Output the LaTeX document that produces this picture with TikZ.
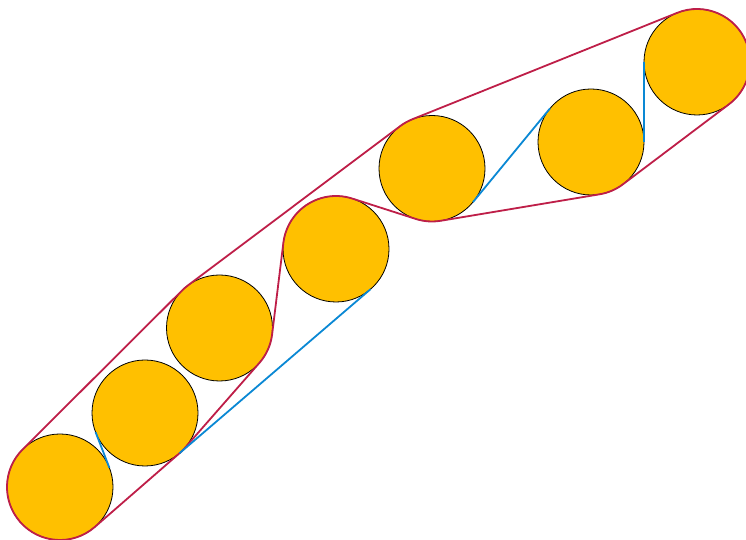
\documentclass[tikz,border=0pt]{standalone}
\usetikzlibrary{calc}
\definecolor{ballfill}{RGB}{255,192,0}
\definecolor{hullred}{RGB}{190,30,72}
\definecolor{cableblue}{RGB}{10,136,212}
\begin{document}
\begin{tikzpicture}[x=1pt,y=1pt,
  ball/.style={circle,draw=black,line width=0.8pt,fill=ballfill,minimum size=106pt,inner sep=0pt},
  hull/.style={draw=hullred,line width=1.8pt,line join=round},
  cable/.style={draw=cableblue,line width=1.8pt}]
\def\R{53}
\useasboundingbox (0,0) rectangle (746,540);
\node[ball] (b1) at (60,53) {};
\node[ball] (b2) at (145,127) {};
\node[ball] (b3) at (219.5,212) {};
\node[ball] (b4) at (336,291) {};
\node[ball] (b5) at (432,371.5) {};
\node[ball] (b6) at (591,398) {};
\node[ball] (b7) at (697,478) {};
% hull
\path[hull] let
  \p1=(b1.center),\p2=(b2.center),\p3=(b3.center),\p4=(b4.center),
  \p5=(b5.center),\p6=(b6.center),\p7=(b7.center),
  \n{13}={atan2(\y3-\y1,\x3-\x1)},
  \n{35}={atan2(\y5-\y3,\x5-\x3)},
  \n{57}={atan2(\y7-\y5,\x7-\x5)},
  \n{76}={atan2(\y6-\y7,\x6-\x7)},
  \n{65}={atan2(\y5-\y6,\x5-\x6)},
  \n{54}={atan2(\y4-\y5,\x4-\x5)},
  \n{t54}={acos(2*\R/veclen(\x4-\x5,\y4-\y5))},
  \n{43}={atan2(\y3-\y4,\x3-\x4)},
  \n{t43}={acos(2*\R/veclen(\x3-\x4,\y3-\y4))},
  \n{32}={atan2(\y2-\y3,\x2-\x3)},
  \n{21}={atan2(\y1-\y2,\x1-\x2)}
 in
  ($(b1.center)+(\n{13}+90:\R)$) -- ($(b3.center)+(\n{13}+90:\R)$)
  arc[start angle=\n{13}+90, end angle=\n{35}+90, radius=\R]
  -- ($(b5.center)+(\n{35}+90:\R)$)
  arc[start angle=\n{35}+90, end angle=\n{57}+90, radius=\R]
  -- ($(b7.center)+(\n{57}+90:\R)$)
  arc[start angle=\n{57}+90, end angle=\n{76}+90, radius=\R]
  -- ($(b6.center)+(\n{76}+90:\R)$)
  arc[start angle=\n{76}+90, end angle=\n{65}+90, radius=\R]
  -- ($(b5.center)+(\n{65}+90:\R)$)
  arc[start angle=\n{65}+90, end angle=\n{54}+\n{t54}, radius=\R]
  -- ($(b4.center)+(\n{54}+\n{t54}+180:\R)$)
  arc[start angle=\n{54}+\n{t54}+180, end angle=\n{43}-\n{t43}+360, radius=\R]
  -- ($(b3.center)+(\n{43}-\n{t43}+180:\R)$)
  arc[start angle=\n{43}-\n{t43}+180, end angle=\n{32}+90, radius=\R]
  -- ($(b2.center)+(\n{32}+90:\R)$)
  arc[start angle=\n{32}+90, end angle=\n{21}+90, radius=\R]
  -- ($(b1.center)+(\n{21}+90:\R)$)
  arc[start angle=\n{21}+90, end angle=\n{13}+90-360, radius=\R]
  -- cycle;
% cables
\path[cable] let \p1=(b1.center),\p2=(b2.center),
  \n{a}={atan2(\y1-\y2,\x1-\x2)},\n{t}={acos(2*\R/veclen(\x1-\x2,\y1-\y2))} in
  ($(b2.center)+(\n{a}-\n{t}:\R)$) -- ($(b1.center)+(\n{a}-\n{t}+180:\R)$);
\path[cable] let \p2=(b2.center),\p4=(b4.center),
  \n{a}={atan2(\y4-\y2,\x4-\x2)} in
  ($(b2.center)+(\n{a}-90:\R)$) -- ($(b4.center)+(\n{a}-90:\R)$);
\path[cable] let \p5=(b5.center),\p6=(b6.center),
  \n{a}={atan2(\y6-\y5,\x6-\x5)},\n{t}={acos(2*\R/veclen(\x6-\x5,\y6-\y5))} in
  ($(b5.center)+(\n{a}-\n{t}:\R)$) -- ($(b6.center)+(\n{a}-\n{t}+180:\R)$);
\path[cable] let \p6=(b6.center),\p7=(b7.center),
  \n{a}={atan2(\y7-\y6,\x7-\x6)},\n{t}={acos(2*\R/veclen(\x7-\x6,\y7-\y6))} in
  ($(b6.center)+(\n{a}-\n{t}:\R)$) -- ($(b7.center)+(\n{a}-\n{t}+180:\R)$);
\end{tikzpicture}
\end{document}
